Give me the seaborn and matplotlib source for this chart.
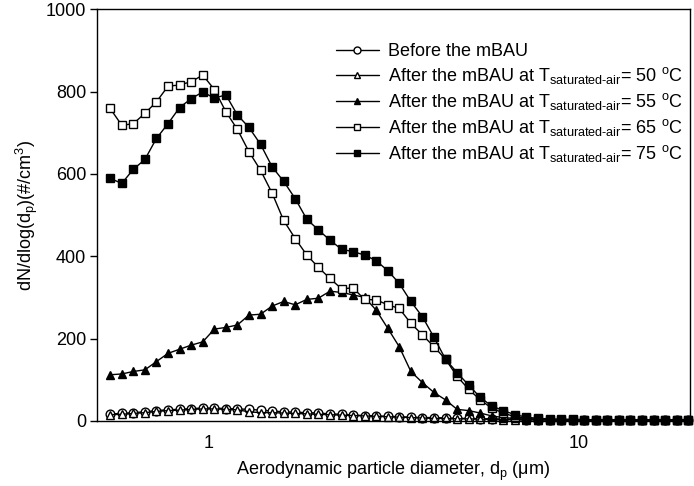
import numpy as np
import pandas as pd
import matplotlib
matplotlib.use("Agg")
import matplotlib.pyplot as plt
import seaborn as sns

# APS bin midpoints (um)
diam = [0.542, 0.583, 0.626, 0.673, 0.723, 0.777, 0.835, 0.898, 0.965, 1.037,
        1.114, 1.197, 1.286, 1.382, 1.486, 1.596, 1.715, 1.843, 1.981, 2.129,
        2.288, 2.458, 2.642, 2.839, 3.051, 3.278, 3.523, 3.786, 4.068, 4.371,
        4.698, 5.048, 5.425, 5.829, 6.264, 6.732, 7.234, 7.774, 8.354, 8.977,
        9.647, 10.37, 11.14, 11.97, 12.86, 13.82, 14.86, 15.96, 17.15, 18.43, 19.81]

before = [17, 18, 20, 22, 25, 27, 28, 30, 31, 31, 30, 29, 28, 26, 24, 22, 21, 20, 19, 17,
          16, 14, 13, 12, 11, 10, 9, 8, 8, 7, 6, 6, 5, 5, 4, 4, 3, 3, 3, 2,
          2, 2, 2, 1, 1, 1, 1, 1, 1, 1, 1]
t50 = [15, 16, 18, 20, 23, 25, 26, 28, 29, 29, 28, 27, 22, 20, 20, 19, 18, 17, 16, 15,
       14, 13, 12, 11, 10, 9, 8, 7, 6, 6, 5, 5, 4, 4, 3, 3, 3, 2, 2, 2,
       2, 1, 1, 1, 1, 1, 1, 1, 1, 1, 1]
t55 = [112, 114, 120, 124, 144, 164, 174, 184, 192, 223, 227, 233, 257, 259, 279, 290, 282, 295, 298, 315,
       312, 306, 300, 269, 225, 180, 120, 93, 69, 51, 28, 25, 19, 12, 8, 6, 4, 3, 3, 2,
       2, 2, 1, 1, 1, 1, 1, 1, 1, 1, 1]
t65 = [759, 718, 722, 747, 775, 813, 816, 824, 840, 805, 751, 708, 654, 609, 553, 487, 443, 403, 373, 346,
       321, 323, 295, 294, 282, 273, 237, 209, 180, 150, 108, 77, 51, 31, 19, 10, 6, 4, 3, 3,
       2, 2, 2, 2, 2, 2, 2, 2, 2, 2, 2]
t75 = [589, 577, 611, 635, 686, 722, 761, 783, 799, 784, 792, 743, 713, 672, 617, 582, 540, 490, 464, 439,
       417, 411, 403, 389, 365, 334, 290, 253, 203, 150, 117, 87, 57, 36, 25, 15, 9, 6, 5, 4,
       4, 3, 3, 3, 3, 3, 3, 3, 3, 3, 3]

sub = r"$_{\mathregular{saturated\text{-}air}}$"
labels = ["Before the mBAU",
          "After the mBAU at T" + sub + "= 50 $^{\\mathregular{o}}$C",
          "After the mBAU at T" + sub + "= 55 $^{\\mathregular{o}}$C",
          "After the mBAU at T" + sub + "= 65 $^{\\mathregular{o}}$C",
          "After the mBAU at T" + sub + "= 75 $^{\\mathregular{o}}$C"]
series = [before, t50, t55, t65, t75]
markers = ["o", "^", "^", "s", "s"]
fills = ["white", "white", "black", "white", "black"]

sns.set_style("white")
plt.rcParams["font.family"] = ["Liberation Sans", "DejaVu Sans"]
plt.rcParams["mathtext.fontset"] = "custom"
plt.rcParams["mathtext.rm"] = "Liberation Sans"
plt.rcParams["mathtext.it"] = "Liberation Sans:italic"
plt.rcParams["mathtext.bf"] = "Liberation Sans:bold"
plt.rcParams["text.color"] = "black"
plt.rcParams["axes.labelcolor"] = "black"
plt.rcParams["xtick.color"] = "black"
plt.rcParams["ytick.color"] = "black"

FS = 13

fig = plt.figure(figsize=(6.94, 4.86), dpi=100)
ax = fig.add_axes([0.140, 0.134, 0.854, 0.847])

for vals, lab, mk, fc in zip(series, labels, markers, fills):
    df = pd.DataFrame({"d": diam, "v": vals})
    sns.lineplot(data=df, x="d", y="v", ax=ax, color="black", linewidth=1.0,
                 marker=mk, markersize=6.3, markerfacecolor=fc, markeredgecolor="black",
                 markeredgewidth=1.0, label=lab, clip_on=False)

ax.set_xscale("log")
ax.set_xlim(0.5, 20)
ax.set_ylim(0, 1000)
ax.set_yticks([0, 200, 400, 600, 800, 1000])
ax.set_xticks([1, 10])
ax.set_xticklabels(["1", "10"])
ax.xaxis.set_minor_locator(matplotlib.ticker.NullLocator())
ax.tick_params(axis="x", direction="in", length=5, width=1, labelsize=FS, pad=10)
ax.tick_params(axis="y", direction="out", length=5, width=1, labelsize=FS, pad=3, left=True)
for s in ax.spines.values():
    s.set_color("black")
    s.set_linewidth(1.0)

ax.set_xlabel("Aerodynamic particle diameter, d$_{\\mathregular{p}}$ (\u03bcm)", fontsize=FS, labelpad=6)
ax.set_ylabel("dN/dlog(d$_{\\mathregular{p}}$)(#/cm$^{\\mathregular{3}}$)", fontsize=FS, labelpad=4)

leg = ax.legend(loc="upper left", bbox_to_anchor=(0.39, 0.935), frameon=False,
                fontsize=FS, handlelength=2.4, handletextpad=0.5, labelspacing=0.28,
                borderaxespad=0)
for h in leg.legend_handles:
    h.set_markersize(5)

fig.savefig("out.png", dpi=100)
